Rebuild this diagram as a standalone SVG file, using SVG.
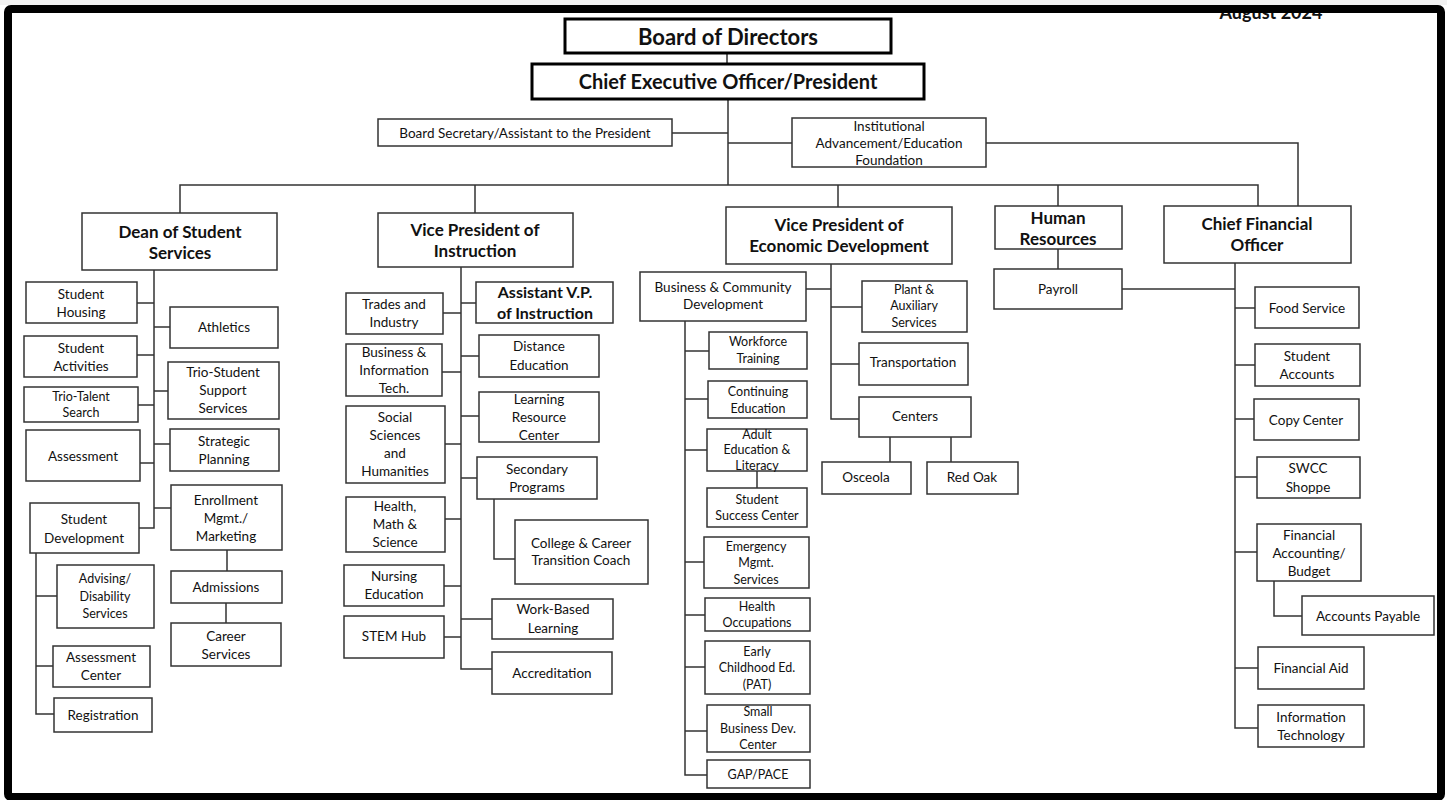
<svg xmlns="http://www.w3.org/2000/svg" width="1447" height="800" viewBox="0 0 1447 800">
<style>
.b{fill:#fff;stroke:#333;stroke-width:1.5}
.h{fill:#fff;stroke:#000;stroke-width:3}
text{font-family:Lato,"Liberation Sans",sans-serif;text-anchor:middle;fill:#111;font-size:13.5px}
.s{font-size:12.5px}
.t{font-size:20px;font-weight:bold}
.m{font-size:17px;font-weight:bold}
.c{fill:none;stroke:#333;stroke-width:1.5}
</style>
<rect x="0" y="0" width="1447" height="800" fill="#fff"/>
<text x="1271" y="19" style="font-size:18px;font-weight:bold">August 2024</text>
<rect x="0" y="0" width="1447" height="5" fill="#f2f2f2"/>
<rect x="8" y="9" width="1433" height="788" rx="3" fill="none" stroke="#000" stroke-width="8"/>

<g id="connectors" class="c">
<path d="M727,53V64M728,99V185M672,133H728M728,143H792M986,143H1298V206M180,213V185H1258V206M475,185V213M838,185V207M1058,185V206"/>
<path d="M154,270V528H139M137,303H154M137,355H154M138,405H154M140,463H154M154,327H170M154,391H168M154,444H170M154,508H171M227,550V571M226,603V623M36,553V714H54M36,596H57M36,666H53"/>
<path d="M461,267V669H492M443,313H461M442,372H461M445,444H461M445,519H461M444,586H461M444,637H461M461,303H476M461,356H479M461,416H479M461,478H477M461,619H492M494,499V559H515"/>
<path d="M831,264V419H859M806,289H831M831,307H862M831,364H859M890,437V462M951,437V462M685,321V775H707M685,351H709M685,399H708M685,450H707M685,562H704M685,615H705M685,667H705M685,731H707M757,471V488"/>
<path d="M1058,249V269M1122,289H1235M1235,263V728H1258M1235,308H1255M1235,365H1255M1235,419H1254M1235,477H1257M1235,552H1257M1235,668H1258M1274,581V616H1302"/>
</g>

<g id="board"><rect class="h" x="565" y="19" width="326" height="34"/><text class="t" x="728" y="45" style="font-size:22px">Board of Directors</text></g>
<g id="ceo"><rect class="h" x="532" y="64" width="392" height="35"/><text class="t" x="728" y="89">Chief Executive Officer/President</text></g>
<g id="secretary"><rect class="b" x="378" y="119" width="294" height="27"/><text x="525" y="138">Board Secretary/Assistant to the President</text></g>
<g id="institutional"><rect class="b" x="792" y="118" width="194" height="49"/><text x="889" y="131">Institutional</text><text x="889" y="148">Advancement/Education</text><text x="889" y="165">Foundation</text></g>

<g id="dean"><rect class="b" x="82" y="213" width="195" height="57"/><text class="m" x="180" y="238">Dean of Student</text><text class="m" x="180" y="259">Services</text></g>
<g id="vpi"><rect class="b" x="378" y="213" width="195" height="54"/><text class="m" x="475" y="236">Vice President of</text><text class="m" x="475" y="257">Instruction</text></g>
<g id="vpe"><rect class="b" x="726" y="207" width="226" height="57"/><text class="m" x="839" y="231">Vice President of</text><text class="m" x="839" y="252">Economic Development</text></g>
<g id="hr"><rect class="b" x="995" y="206" width="127" height="43"/><text class="m" x="1058" y="224">Human</text><text class="m" x="1058" y="245">Resources</text></g>
<g id="cfo"><rect class="b" x="1164" y="206" width="187" height="57"/><text class="m" x="1257" y="230">Chief Financial</text><text class="m" x="1257" y="251">Officer</text></g>

<g id="student-housing"><rect class="b" x="26" y="282" width="111" height="41"/><text x="81" y="299">Student</text><text x="81" y="317">Housing</text></g>
<g id="student-activities"><rect class="b" x="24" y="336" width="113" height="41"/><text x="81" y="353">Student</text><text x="81" y="371">Activities</text></g>
<g id="trio-talent"><rect class="b" x="24" y="387" width="114" height="35"/><text class="s" x="81" y="401">Trio-Talent</text><text class="s" x="81" y="417">Search</text></g>
<g id="assessment"><rect class="b" x="26" y="430" width="114" height="51"/><text x="83" y="461">Assessment</text></g>
<g id="student-development"><rect class="b" x="30" y="503" width="109" height="50"/><text x="84" y="524">Student</text><text x="84" y="543">Development</text></g>
<g id="athletics"><rect class="b" x="170" y="307" width="108" height="41"/><text x="224" y="332">Athletics</text></g>
<g id="trio-student"><rect class="b" x="168" y="362" width="111" height="57"/><text x="223" y="377">Trio-Student</text><text x="223" y="395">Support</text><text x="223" y="413">Services</text></g>
<g id="strategic"><rect class="b" x="170" y="429" width="109" height="42"/><text x="224" y="446">Strategic</text><text x="224" y="464">Planning</text></g>
<g id="enrollment"><rect class="b" x="171" y="485" width="111" height="65"/><text x="226" y="505">Enrollment</text><text x="226" y="523">Mgmt./</text><text x="226" y="541">Marketing</text></g>
<g id="admissions"><rect class="b" x="171" y="571" width="111" height="32"/><text x="226" y="592">Admissions</text></g>
<g id="career"><rect class="b" x="171" y="623" width="110" height="43"/><text x="226" y="641">Career</text><text x="226" y="659">Services</text></g>
<g id="advising"><rect class="b" x="57" y="565" width="97" height="63"/><text class="s" x="105" y="583">Advising/</text><text class="s" x="105" y="601">Disability</text><text class="s" x="105" y="618">Services</text></g>
<g id="assessment-center"><rect class="b" x="53" y="646" width="97" height="41"/><text x="101" y="662">Assessment</text><text x="101" y="680">Center</text></g>
<g id="registration"><rect class="b" x="54" y="698" width="98" height="34"/><text x="103" y="720">Registration</text></g>

<g id="trades"><rect class="b" x="346" y="293" width="97" height="41"/><text x="394" y="309">Trades and</text><text x="394" y="327">Industry</text></g>
<g id="business-it"><rect class="b" x="346" y="344" width="96" height="52"/><text x="394" y="357">Business &amp;</text><text x="394" y="375">Information</text><text x="394" y="393">Tech.</text></g>
<g id="social"><rect class="b" x="346" y="406" width="99" height="77"/><text x="395" y="422">Social</text><text x="395" y="440">Sciences</text><text x="395" y="458">and</text><text x="395" y="476">Humanities</text></g>
<g id="health-math"><rect class="b" x="346" y="497" width="99" height="55"/><text x="395" y="511">Health,</text><text x="395" y="529">Math &amp;</text><text x="395" y="547">Science</text></g>
<g id="nursing"><rect class="b" x="344" y="565" width="100" height="41"/><text x="394" y="581">Nursing</text><text x="394" y="599">Education</text></g>
<g id="stem"><rect class="b" x="344" y="616" width="100" height="42"/><text x="394" y="641">STEM Hub</text></g>
<g id="asst-vp"><rect class="b" x="476" y="282" width="137" height="41"/><text class="m" x="545" y="298" style="font-size:16px">Assistant V.P.</text><text class="m" x="545" y="319" style="font-size:16px">of Instruction</text></g>
<g id="distance"><rect class="b" x="479" y="335" width="120" height="42"/><text x="539" y="351">Distance</text><text x="539" y="370">Education</text></g>
<g id="learning"><rect class="b" x="479" y="392" width="120" height="50"/><text x="539" y="404">Learning</text><text x="539" y="422">Resource</text><text x="539" y="440">Center</text></g>
<g id="secondary"><rect class="b" x="477" y="457" width="120" height="42"/><text x="537" y="474">Secondary</text><text x="537" y="492">Programs</text></g>
<g id="college-career"><rect class="b" x="515" y="520" width="133" height="64"/><text x="581" y="548">College &amp; Career</text><text x="581" y="565">Transition Coach</text></g>
<g id="work-based"><rect class="b" x="492" y="599" width="121" height="40"/><text x="553" y="614">Work-Based</text><text x="553" y="633">Learning</text></g>
<g id="accreditation"><rect class="b" x="492" y="652" width="120" height="42"/><text x="552" y="678">Accreditation</text></g>

<g id="business-community"><rect class="b" x="640" y="272" width="166" height="49"/><text x="723" y="292">Business &amp; Community</text><text x="723" y="309">Development</text></g>
<g id="plant"><rect class="b" x="862" y="281" width="105" height="51"/><text class="s" x="914" y="294">Plant &amp;</text><text class="s" x="914" y="310">Auxiliary</text><text class="s" x="914" y="327">Services</text></g>
<g id="transportation"><rect class="b" x="859" y="343" width="109" height="42"/><text x="913" y="367">Transportation</text></g>
<g id="centers"><rect class="b" x="859" y="397" width="112" height="40"/><text x="915" y="421">Centers</text></g>
<g id="osceola"><rect class="b" x="822" y="462" width="89" height="32"/><text x="866" y="482">Osceola</text></g>
<g id="red-oak"><rect class="b" x="927" y="462" width="91" height="32"/><text x="972" y="482">Red Oak</text></g>
<g id="workforce"><rect class="b" x="709" y="332" width="98" height="37"/><text class="s" x="758" y="346">Workforce</text><text class="s" x="758" y="363">Training</text></g>
<g id="continuing"><rect class="b" x="708" y="381" width="99" height="37"/><text class="s" x="758" y="396">Continuing</text><text class="s" x="758" y="413">Education</text></g>
<g id="adult-ed"><rect class="b" x="707" y="429" width="100" height="42"/><text class="s" x="757" y="439">Adult</text><text class="s" x="757" y="454">Education &amp;</text><text class="s" x="757" y="470">Literacy</text></g>
<g id="student-success"><rect class="b" x="707" y="488" width="100" height="39"/><text class="s" x="757" y="504">Student</text><text class="s" x="757" y="520">Success Center</text></g>
<g id="emergency"><rect class="b" x="704" y="537" width="105" height="51"/><text class="s" x="756" y="551">Emergency</text><text class="s" x="756" y="567">Mgmt.</text><text class="s" x="756" y="584">Services</text></g>
<g id="health-occ"><rect class="b" x="705" y="598" width="105" height="33"/><text class="s" x="757" y="611">Health</text><text class="s" x="757" y="627">Occupations</text></g>
<g id="early-childhood"><rect class="b" x="705" y="641" width="105" height="53"/><text class="s" x="757" y="656">Early</text><text class="s" x="757" y="672">Childhood Ed.</text><text class="s" x="757" y="689">(PAT)</text></g>
<g id="small-business"><rect class="b" x="707" y="705" width="103" height="47"/><text class="s" x="758" y="716">Small</text><text class="s" x="758" y="733">Business Dev.</text><text class="s" x="758" y="749">Center</text></g>
<g id="gap-pace"><rect class="b" x="707" y="760" width="103" height="28"/><text class="s" x="758" y="779">GAP/PACE</text></g>

<g id="payroll"><rect class="b" x="994" y="269" width="128" height="40"/><text x="1058" y="294">Payroll</text></g>
<g id="food"><rect class="b" x="1255" y="287" width="104" height="41"/><text x="1307" y="313">Food Service</text></g>
<g id="student-accounts"><rect class="b" x="1255" y="344" width="105" height="42"/><text x="1307" y="361">Student</text><text x="1307" y="379">Accounts</text></g>
<g id="copy"><rect class="b" x="1254" y="399" width="105" height="41"/><text x="1306" y="425">Copy Center</text></g>
<g id="swcc"><rect class="b" x="1257" y="457" width="103" height="41"/><text x="1308" y="473">SWCC</text><text x="1308" y="492">Shoppe</text></g>
<g id="fin-accounting"><rect class="b" x="1257" y="524" width="104" height="57"/><text x="1309" y="540">Financial</text><text x="1309" y="558">Accounting/</text><text x="1309" y="576">Budget</text></g>
<g id="accounts-payable"><rect class="b" x="1302" y="596" width="132" height="39"/><text x="1368" y="621">Accounts Payable</text></g>
<g id="fin-aid"><rect class="b" x="1258" y="647" width="106" height="42"/><text x="1311" y="673">Financial Aid</text></g>
<g id="it"><rect class="b" x="1258" y="705" width="106" height="42"/><text x="1311" y="722">Information</text><text x="1311" y="740">Technology</text></g>
</svg>
